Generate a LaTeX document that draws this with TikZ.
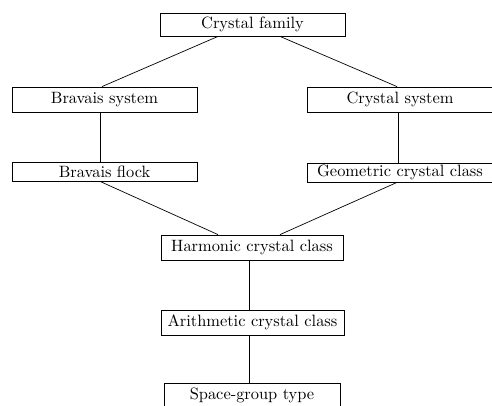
\documentclass[tikz,border=0pt]{standalone}
\newcommand{\bigtxt}[1]{\scalebox{1.64}{#1}}
\begin{document}
\begin{tikzpicture}[x=1pt,y=-1pt,
  box/.style={draw, line width=0.8pt, inner sep=0pt, font=\normalsize},
  link/.style={line width=0.7pt}]
\useasboundingbox (0,0) rectangle (492,405);
\node[box, minimum width=185pt, minimum height=23pt] (cf) at (252.5,24.5) {\bigtxt{Crystal family}};
\node[box, minimum width=185pt, minimum height=25pt] (bs) at (104.5,99.5) {\bigtxt{Bravais system}};
\node[box, minimum width=186pt, minimum height=25pt] (cs) at (400,99.5) {\bigtxt{Crystal system}};
\node[box, minimum width=185pt, minimum height=19pt] (bf) at (104.5,171.5) {\bigtxt{Bravais flock}};
\node[box, minimum width=186pt, minimum height=19pt] (gc) at (400,172.5) {\bigtxt{Geometric crystal class}};
\node[box, minimum width=182pt, minimum height=25pt] (hc) at (252,247.5) {\bigtxt{Harmonic crystal class}};
\node[box, minimum width=183pt, minimum height=25pt] (ac) at (252.5,322.5) {\bigtxt{Arithmetic crystal class}};
\node[box, minimum width=176pt, minimum height=25pt] (sg) at (252,395.5) {\bigtxt{Space-group type}};
\draw[link] ([xshift=-34.5pt]cf.south) -- ([xshift=-2.5pt]bs.north);
\draw[link] ([xshift=27.5pt]cf.south) -- ([xshift=-3pt]cs.north);
\draw[link] ([xshift=-4.5pt]bs.south) -- ([xshift=-4.5pt]bf.north);
\draw[link] ([xshift=-2pt]cs.south) -- ([xshift=-2pt]gc.north);
\draw[link] ([xshift=-4.5pt]bf.south) -- ([xshift=-34pt]hc.north);
\draw[link] ([xshift=-3pt]gc.south) -- ([xshift=28pt]hc.north);
\draw[link] ([xshift=-3pt]hc.south) -- ([xshift=-3.5pt]ac.north);
\draw[link] ([xshift=-3.5pt]ac.south) -- ([xshift=-3pt]sg.north);
\end{tikzpicture}
\end{document}
